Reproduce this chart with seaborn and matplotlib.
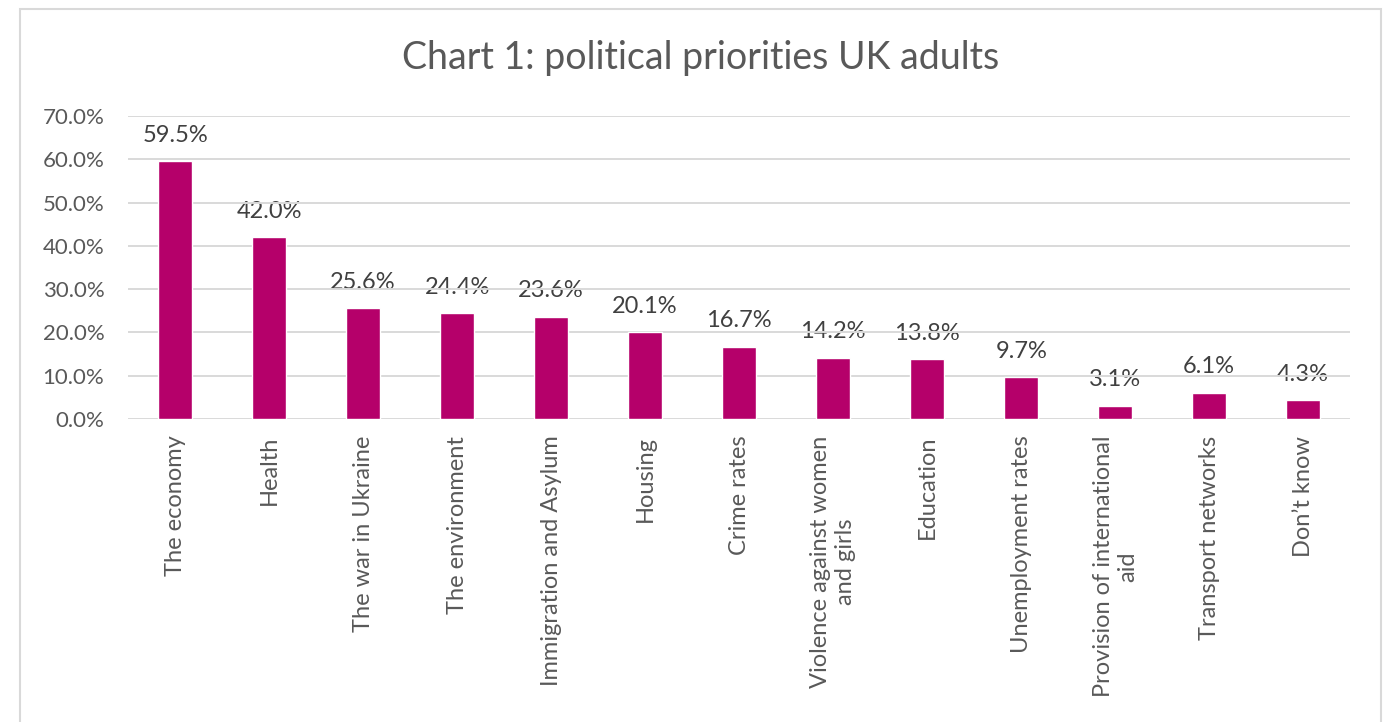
import matplotlib
matplotlib.use("Agg")
import matplotlib.pyplot as plt
from matplotlib.patches import Rectangle
from matplotlib.ticker import FuncFormatter
import seaborn as sns
import pandas as pd

categories = [
    "The economy", "Health", "The war in Ukraine", "The environment",
    "Immigration and Asylum", "Housing", "Crime rates",
    "Violence against women\nand girls", "Education", "Unemployment rates",
    "Provision of international\naid", "Transport networks", "Don\u2019t know",
]
shares = [59.5, 42.0, 25.6, 24.4, 23.6, 20.1, 16.7, 14.2, 13.8, 9.7, 3.1, 6.1, 4.3]
y_ticks = [0, 10, 20, 30, 40, 50, 60, 70]
title = "Chart 1: political priorities UK adults"

df = pd.DataFrame({"priority": categories, "share": [v / 100 for v in shares]})

sns.set_theme(style="white")
plt.rcParams["font.family"] = ["Lato", "DejaVu Sans"]

fig = plt.figure(figsize=(13.92, 7.22), dpi=100)
ax = fig.add_axes([0.092, 0.4197, 0.878, 0.4196])

sns.barplot(data=df, x="priority", y="share", color="#B5006A", width=0.36,
            saturation=1, ax=ax, zorder=2)

ax.set_ylim(0, 0.70)
ax.set_yticks([t / 100 for t in y_ticks])
ax.yaxis.set_major_formatter(FuncFormatter(lambda v, _: f"{v * 100:.1f}%"))
ax.set_xlim(-0.5, len(categories) - 0.5)
ax.grid(axis="y", color="#D9D9D9", linewidth=1.4, zorder=1.5)
ax.set_axisbelow("line")
for s in ax.spines.values():
    s.set_visible(False)
ax.set_xlabel("")
ax.set_ylabel("")
ax.tick_params(axis="y", labelsize=16, labelcolor="#595959", length=0, pad=17)
ax.tick_params(axis="x", labelsize=17, labelcolor="#595959", length=0, pad=12,
               labelrotation=90)
for lbl in ax.get_xticklabels():
    lbl.set_multialignment("center")

for i, v in enumerate(shares):
    ax.annotate(f"{v:.1f}%", xy=(i, v / 100), xytext=(0, 14),
                textcoords="offset points", ha="center", va="baseline",
                fontsize=17, color="#404040", zorder=1)

fig.text(0.5036, 0.92, title, ha="center", va="center", fontsize=27,
         color="#595959")

fig.patches.append(Rectangle((20 / 1392, -0.05), 1361 / 1392, 1.05 - 9 / 722,
                             transform=fig.transFigure, fill=False,
                             edgecolor="#D9D9D9", linewidth=1.5, clip_on=False))

fig.savefig("out.png", dpi=100, facecolor="white")
